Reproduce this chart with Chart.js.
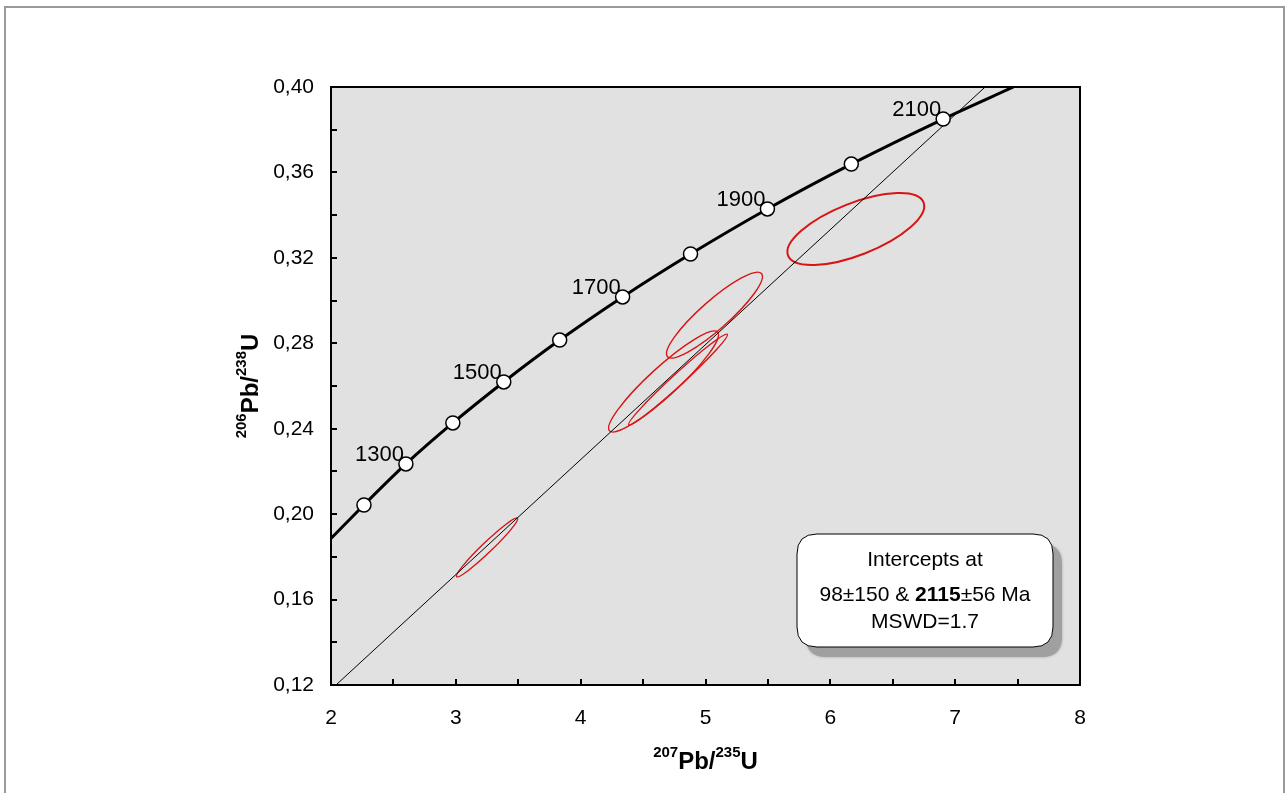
<!DOCTYPE html>
<html>
<head>
<meta charset="utf-8">
<script src="https://cdn.jsdelivr.net/npm/chart.js@4.4.1/dist/chart.umd.min.js"></script>
<style>
  body { margin: 0; background: #fff; }
  #wrap { width: 1287px; height: 793px; }
</style>
</head>
<body>
<div id="wrap"><canvas id="mycanvas" width="1287" height="793"></canvas></div>
<script>
// concordia ages (Ma) and their positions
var ages = [1200, 1300, 1400, 1500, 1600, 1700, 1800, 1900, 2000, 2100];
var concX = [2.264, 2.600, 2.976, 3.384, 3.832, 4.336, 4.880, 5.496, 6.168, 6.904];
var concY = [0.2043, 0.2235, 0.2427, 0.2619, 0.2815, 0.3017, 0.3218, 0.3429, 0.3639, 0.3850];
var labelledAges = [1300, 1500, 1700, 1900, 2100];

// ends of the concordia curve where it leaves the plot
var curveStartX = 2.0, curveStartY = 0.1886;
var curveEndX = 7.467, curveEndY = 0.40;

// discordia line
var discX = [2.04, 7.24];
var discY = [0.12, 0.40];

// error ellipses: centre, half extents and correlation
var ellX = [3.250, 4.664, 4.780, 5.072, 6.204];
var ellY = [0.1844, 0.2621, 0.2630, 0.2932, 0.3335];
var ellSx = [0.2456, 0.440, 0.396, 0.384, 0.548];
var ellSy = [0.01381, 0.02365, 0.0213, 0.0201, 0.01686];
var ellRho = [0.972, 0.925, 0.985, 0.90, 0.64];

var xTicks = [2, 3, 4, 5, 6, 7, 8];
var yTicks = [0.12, 0.16, 0.20, 0.24, 0.28, 0.32, 0.36, 0.40];

var boxLines = ['Intercepts at', '98\u00b1150 & ', '2115', '\u00b156 Ma', 'MSWD=1.7'];

var FONT = '"Liberation Sans", Arial, sans-serif';

var curveData = [{x: curveStartX, y: curveStartY}];
var pointData = [];
for (var i in ages) {
	curveData.push({x: concX[i], y: concY[i]});
	pointData.push({x: concX[i], y: concY[i]});
}
curveData.push({x: curveEndX, y: curveEndY});

var discData = [];
for (var j in discX) {
	discData.push({x: discX[j], y: discY[j]});
}

function roundRect(ctx, x, y, w, h, r) {
	ctx.beginPath();
	ctx.moveTo(x + r, y);
	ctx.lineTo(x + w - r, y);
	ctx.quadraticCurveTo(x + w, y, x + w, y + r);
	ctx.lineTo(x + w, y + h - r);
	ctx.quadraticCurveTo(x + w, y + h, x + w - r, y + h);
	ctx.lineTo(x + r, y + h);
	ctx.quadraticCurveTo(x, y + h, x, y + h - r);
	ctx.lineTo(x, y + r);
	ctx.quadraticCurveTo(x, y, x + r, y);
	ctx.closePath();
}

function drawSupTitle(ctx, parts, cx, cy, rotate) {
	ctx.save();
	ctx.translate(cx, cy);
	if (rotate) ctx.rotate(-Math.PI / 2);
	var total = 0;
	for (var k = 0; k < parts.length; k++) {
		ctx.font = parts[k].sup ? 'bold 15px ' + FONT : 'bold 24px ' + FONT;
		total += ctx.measureText(parts[k].t).width;
	}
	var x = -total / 2;
	ctx.fillStyle = '#000';
	ctx.textAlign = 'left';
	ctx.textBaseline = 'alphabetic';
	for (var k = 0; k < parts.length; k++) {
		ctx.font = parts[k].sup ? 'bold 15px ' + FONT : 'bold 24px ' + FONT;
		ctx.fillText(parts[k].t, x, parts[k].sup ? -3 : 9);
		x += ctx.measureText(parts[k].t).width;
	}
	ctx.restore();
}

var framePlugin = {
	id: 'frame',
	beforeDraw: function(chart) {
		var ctx = chart.ctx, a = chart.chartArea;
		ctx.save();
		ctx.fillStyle = '#fff';
		ctx.fillRect(0, 0, chart.width, chart.height);
		ctx.strokeStyle = '#9a9a9a';
		ctx.lineWidth = 2;
		ctx.strokeRect(5, 7, 1279, 800);
		ctx.fillStyle = '#e1e1e1';
		ctx.fillRect(a.left, a.top, a.right - a.left, a.bottom - a.top);
		ctx.restore();
	},
	beforeDatasetsDraw: function(chart) {
		var ctx = chart.ctx, a = chart.chartArea;
		var xs = chart.scales.x, ys = chart.scales.y;
		ctx.save();
		ctx.beginPath();
		ctx.rect(a.left, a.top, a.right - a.left, a.bottom - a.top);
		ctx.clip();
		ctx.strokeStyle = '#d81414';
		for (var k = 0; k < ellX.length; k++) {
			var px = xs.getPixelForValue(ellX[k]);
			var py = ys.getPixelForValue(ellY[k]);
			var sa = Math.abs(xs.getPixelForValue(ellX[k] + ellSx[k]) - px);
			var sb = Math.abs(ys.getPixelForValue(ellY[k] + ellSy[k]) - py);
			var cxy = -ellRho[k] * sa * sb;
			var p = sa * sa, q = sb * sb;
			var d = Math.sqrt((p - q) * (p - q) / 4 + cxy * cxy);
			var l1 = (p + q) / 2 + d, l2 = (p + q) / 2 - d;
			var ang = 0.5 * Math.atan2(2 * cxy, p - q);
			ctx.lineWidth = k == 4 ? 2 : 1.4;
			ctx.beginPath();
			ctx.ellipse(px, py, Math.sqrt(l1), Math.sqrt(Math.max(l2, 0.5)), ang, 0, Math.PI * 2);
			ctx.stroke();
		}
		ctx.restore();
	},
	afterDraw: function(chart) {
		var ctx = chart.ctx, a = chart.chartArea;
		var xs = chart.scales.x, ys = chart.scales.y;
		ctx.save();
		// inward tick marks
		ctx.strokeStyle = '#000';
		ctx.lineWidth = 2;
		ctx.beginPath();
		xs.ticks.forEach(function(t) {
			var px = Math.round(xs.getPixelForValue(t.value));
			ctx.moveTo(px, a.bottom);
			ctx.lineTo(px, a.bottom - 6);
		});
		ys.ticks.forEach(function(t) {
			var py = Math.round(ys.getPixelForValue(t.value));
			ctx.moveTo(a.left, py);
			ctx.lineTo(a.left + 6, py);
		});
		ctx.stroke();
		ctx.strokeRect(a.left, a.top, a.right - a.left, a.bottom - a.top);

		// age labels
		ctx.fillStyle = '#000';
		ctx.font = '22px ' + FONT;
		ctx.textAlign = 'right';
		ctx.textBaseline = 'middle';
		for (var k in ages) {
			if (labelledAges.indexOf(ages[k]) < 0) continue;
			var px = xs.getPixelForValue(concX[k]);
			var py = ys.getPixelForValue(concY[k]);
			ctx.fillText(String(ages[k]), px - 2, py - 9);
		}

		// intercept box
		var bx = a.right - 283, by = a.bottom - 151, bw = 256, bh = 113;
		ctx.save();
		ctx.fillStyle = '#a0a0a0';
		ctx.shadowColor = 'rgba(0,0,0,0.25)';
		ctx.shadowBlur = 3;
		roundRect(ctx, bx + 9, by + 10, bw, bh, 20);
		ctx.fill();
		ctx.restore();
		roundRect(ctx, bx, by, bw, bh, 20);
		ctx.fillStyle = '#fff';
		ctx.fill();
		ctx.lineWidth = 1;
		ctx.strokeStyle = '#000';
		ctx.stroke();

		var cx = bx + bw / 2;
		ctx.fillStyle = '#000';
		ctx.textBaseline = 'middle';
		ctx.textAlign = 'center';
		ctx.font = '21px ' + FONT;
		ctx.fillText(boxLines[0], cx, by + 26);
		ctx.fillText(boxLines[4], cx, by + 88);
		var w1, w2, w3;
		ctx.font = '21px ' + FONT; w1 = ctx.measureText(boxLines[1]).width;
		ctx.font = 'bold 21px ' + FONT; w2 = ctx.measureText(boxLines[2]).width;
		ctx.font = '21px ' + FONT; w3 = ctx.measureText(boxLines[3]).width;
		var sx = cx - (w1 + w2 + w3) / 2;
		ctx.textAlign = 'left';
		ctx.fillText(boxLines[1], sx, by + 61);
		ctx.font = 'bold 21px ' + FONT;
		ctx.fillText(boxLines[2], sx + w1, by + 61);
		ctx.font = '21px ' + FONT;
		ctx.fillText(boxLines[3], sx + w1 + w2, by + 61);

		// axis titles
		drawSupTitle(ctx, [{t: '207', sup: true}, {t: 'Pb/'}, {t: '235', sup: true}, {t: 'U'}],
			(a.left + a.right) / 2, a.bottom + 75, false);
		drawSupTitle(ctx, [{t: '206', sup: true}, {t: 'Pb/'}, {t: '238', sup: true}, {t: 'U'}],
			a.left - 82, (a.top + a.bottom) / 2, true);
		ctx.restore();
	}
};

var ctx = document.getElementById('mycanvas');

var chart = new Chart(ctx, {
	type: 'scatter',
	data: {
		datasets: [
			{
				label: 'ages',
				data: pointData,
				pointRadius: 7,
				pointBackgroundColor: '#fff',
				pointBorderColor: '#000',
				pointBorderWidth: 1.5,
				showLine: false
			},
			{
				label: 'concordia',
				data: curveData,
				showLine: true,
				pointRadius: 0,
				borderColor: '#000',
				borderWidth: 3,
				cubicInterpolationMode: 'monotone'
			},
			{
				label: 'discordia',
				data: discData,
				showLine: true,
				pointRadius: 0,
				borderColor: '#000',
				borderWidth: 1
			}
		]
	},
	options: {
		responsive: false,
		animation: false,
		events: [],
		layout: { padding: { top: 87, right: 207, left: 0, bottom: 0 } },
		plugins: {
			legend: { display: false },
			tooltip: { enabled: false }
		},
		scales: {
			x: {
				type: 'linear',
				min: 2,
				max: 8,
				grid: { display: false, drawTicks: false },
				border: { display: false },
				afterFit: function(s) { s.height = 108; },
				ticks: {
					stepSize: 0.5,
					autoSkip: false,
					maxRotation: 0,
					padding: 21,
					color: '#000',
					font: { size: 21, family: FONT },
					callback: function(v) {
						return xTicks.indexOf(v) >= 0 ? String(v) : '';
					}
				}
			},
			y: {
				type: 'linear',
				min: 0.12,
				max: 0.40,
				grid: { display: false, drawTicks: false },
				border: { display: false },
				afterFit: function(s) { s.width = 331; },
				ticks: {
					stepSize: 0.02,
					autoSkip: false,
					padding: 17,
					color: '#000',
					font: { size: 21, family: FONT },
					callback: function(v) {
						for (var k in yTicks) {
							if (Math.abs(yTicks[k] - v) < 1e-6) return yTicks[k].toFixed(2).replace('.', ',');
						}
						return '';
					}
				}
			}
		}
	},
	plugins: [framePlugin]
});
</script>
</body>
</html>
